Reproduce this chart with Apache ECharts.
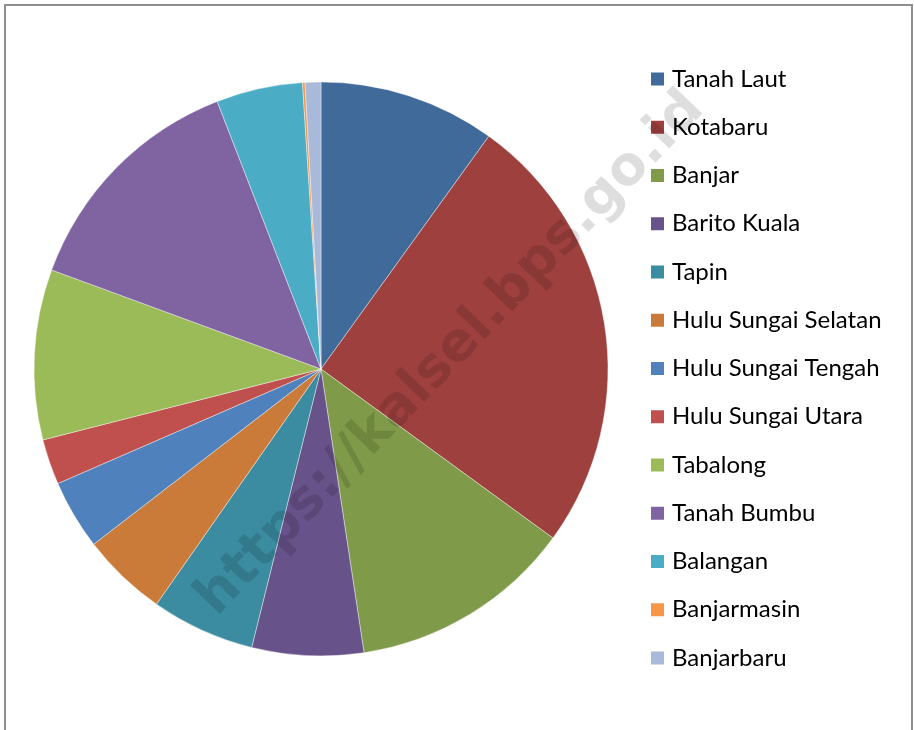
<!DOCTYPE html>
<html>
<head>
<meta charset="utf-8">
<style>
  html, body { margin: 0; padding: 0; background: #fff; }
  #chart { width: 914px; height: 730px; }
</style>
<script src="https://cdn.jsdelivr.net/npm/echarts@6/dist/echarts.min.js"></script>
</head>
<body>
<div id="chart"></div>
<script>
// kabupaten/kota names, in legend order
var regions = ['Tanah Laut', 'Kotabaru', 'Banjar', 'Barito Kuala', 'Tapin',
    'Hulu Sungai Selatan', 'Hulu Sungai Tengah', 'Hulu Sungai Utara', 'Tabalong',
    'Tanah Bumbu', 'Balangan', 'Banjarmasin', 'Banjarbaru'];
// share (%)
var shares = [9.94, 25.08, 12.58, 6.28, 5.83, 4.83, 3.92, 2.56, 9.58, 13.5, 4.86, 0.14, 0.89];
var sliceColors = ['#3f6a9a', '#9e413e', '#7f9a48', '#68528a', '#3b8ba1', '#cb7b39',
    '#4f81bd', '#c0504d', '#9bbb59', '#8064a2', '#4bacc6', '#f79646', '#a9b9d9'];

var pieData = [];
for (var i = 0; i < regions.length; i++) {
    pieData.push({ name: regions[i], value: shares[i] });
}

var chart = echarts.init(document.getElementById('chart'));

var option = {
    backgroundColor: '#fff',
    animation: false,
    color: sliceColors,
    legend: {
        orient: 'vertical',
        left: 644,
        top: 62,
        icon: 'rect',
        itemWidth: 15,
        itemHeight: 15,
        itemGap: 24.25,
        selectedMode: false,
        textStyle: {
            fontFamily: 'Lato',
            fontSize: 24,
            lineHeight: 24,
            color: '#000',
            padding: [0, 0, 0, 2]
        },
        data: regions
    },
    graphic: [
        {
            type: 'rect',
            shape: { x: 5, y: 5, width: 907, height: 760 },
            style: { fill: 'none', stroke: '#8f8f8f', lineWidth: 2 },
            silent: true
        },
        {
            type: 'text',
            x: 451,
            y: 354,
            rotation: 46 * Math.PI / 180,
            z: 100,
            silent: true,
            style: {
                text: 'https://kalsel.bps.go.id',
                fontFamily: 'DejaVu Sans',
                fontWeight: 'bold',
                fontSize: 54,
                fill: 'rgba(0,0,0,0.13)',
                align: 'center',
                verticalAlign: 'middle'
            }
        }
    ],
    series: [{
        type: 'pie',
        center: [321, 369],
        radius: 287,
        startAngle: 90,
        clockwise: true,
        label: { show: false },
        labelLine: { show: false },
        emphasis: { disabled: true },
        itemStyle: { borderColor: '#fff', borderWidth: 0.4 },
        data: pieData
    }]
};

chart.setOption(option);
</script>
</body>
</html>
